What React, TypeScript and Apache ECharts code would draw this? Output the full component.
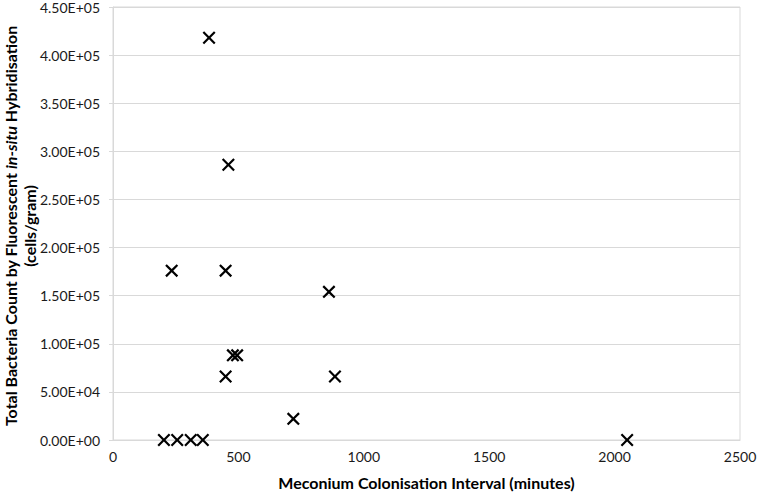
import React, { useEffect, useRef } from "react";
import * as echarts from "echarts";

const xValues = [383, 460, 234, 449, 861, 478, 495, 449, 885, 719, 203, 256, 310, 358, 2050];
const yValues = [418000, 286000, 176000, 176000, 154000, 88000, 88000, 66000, 66000, 22000, 0, 0, 0, 0, 0];
const xTicks = { min: 0, max: 2500, interval: 500 };
const yTicks = { min: 0, max: 450000, interval: 50000 };

const crossPath =
  "path://M0,1.2L1.2,0L5,3.8L8.8,0L10,1.2L6.2,5L10,8.8L8.8,10L5,6.2L1.2,10L0,8.8L3.8,5Z";

function fmtExp(v: number): string {
  const s = v.toExponential(2);
  const [m, e] = s.split("e");
  const sign = e[0] === "-" ? "-" : "+";
  const digits = e.replace(/[+-]/, "").padStart(2, "0");
  return `${m}E${sign}${digits}`;
}

export default function App() {
  const ref = useRef<HTMLDivElement>(null);
  useEffect(() => {
    if (!ref.current) return;
    const chart = echarts.init(ref.current, undefined, { renderer: "svg" });
    const font = "Lato, 'Open Sans', sans-serif";
    const richStyles = {
      b: { fontFamily: font, fontWeight: "bold", fontSize: 16, fill: "#000" },
      i: { fontFamily: font, fontWeight: "bold", fontStyle: "italic", fontSize: 16, fill: "#000" },
    };
    chart.setOption({
      animation: false,
      backgroundColor: "#ffffff",
      grid: {
        left: 113,
        right: 17,
        top: 7,
        bottom: 52,
        show: true,
        borderColor: "#d9d9d9",
        borderWidth: 1,
        containLabel: false,
        outerBoundsMode: "none",
      },
      graphic: [
        {
          type: "text",
          x: 10,
          y: 226,
          rotation: Math.PI / 2,
          silent: true,
          style: {
            text: "{b|Total Bacteria Count by Fluorescent }{i|in-situ}{b| Hybridisation}",
            rich: richStyles,
            align: "center",
            verticalAlign: "middle",
            font: `bold 16px ${font}`,
            fill: "#000",
          },
        },
        {
          type: "text",
          x: 29,
          y: 226,
          rotation: Math.PI / 2,
          silent: true,
          style: {
            text: "(cells/gram)",
            align: "center",
            verticalAlign: "middle",
            font: `bold 16px ${font}`,
            fill: "#000",
          },
        },
      ],
      xAxis: {
        type: "value",
        min: xTicks.min,
        max: xTicks.max,
        interval: xTicks.interval,
        name: "Meconium Colonisation Interval (minutes)",
        nameLocation: "middle",
        nameGap: 34,
        nameTextStyle: { fontFamily: font, fontWeight: "bold", fontSize: 16, color: "#000" },
        axisLine: { show: true, lineStyle: { color: "#d9d9d9" } },
        axisTick: { show: false },
        splitLine: { show: false },
        axisLabel: {
          fontFamily: font,
          fontSize: 14,
          color: "#1a1a1a",
          margin: 9,
          formatter: (v: number) => String(v),
        },
      },
      yAxis: {
        type: "value",
        min: yTicks.min,
        max: yTicks.max,
        interval: yTicks.interval,
        axisLine: { show: true, lineStyle: { color: "#d9d9d9" } },
        axisTick: { show: true, length: 4, lineStyle: { color: "#d9d9d9" } },
        splitLine: { show: true, lineStyle: { color: "#d9d9d9", width: 1 } },
        axisLabel: {
          fontFamily: font,
          fontSize: 14,
          color: "#1a1a1a",
          margin: 13,
          formatter: (v: number) => fmtExp(v),
        },
      },
      series: [
        {
          type: "scatter",
          data: xValues.map((x, i) => [x, yValues[i]]),
          symbol: crossPath,
          symbolSize: 13,
          itemStyle: { color: "#000000", opacity: 1 },
          emphasis: { disabled: true },
          silent: true,
        },
      ],
    });
    return () => chart.dispose();
  }, []);
  return (
    <div
      ref={ref}
      style={{ position: "absolute", left: 0, top: 0, width: 757, height: 492 }}
    />
  );
}
